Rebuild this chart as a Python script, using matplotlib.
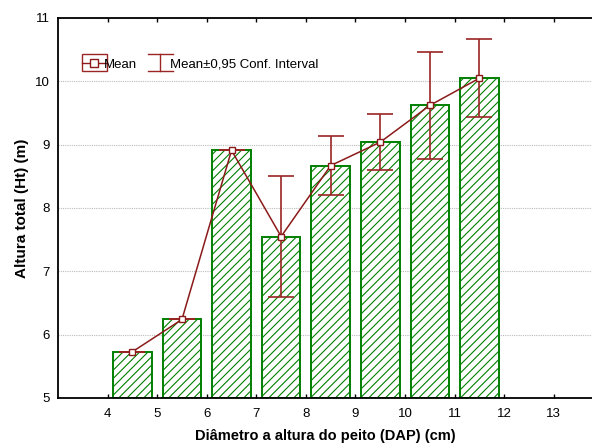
import matplotlib
matplotlib.use("Agg")
import matplotlib.pyplot as plt
from matplotlib.lines import Line2D
from matplotlib.legend_handler import HandlerBase
from matplotlib.patches import Rectangle
import numpy as np

plt.rcParams['font.family'] = ['Liberation Sans', 'DejaVu Sans']
plt.rcParams['hatch.color'] = '#4CAF50'
plt.rcParams['hatch.linewidth'] = 0.8

dap = [4.5, 5.5, 6.5, 7.5, 8.5, 9.5, 10.5, 11.5]
mean_ht = [5.73, 6.24, 8.91, 7.55, 8.67, 9.04, 9.62, 10.05]
ci_low = [5.73, 6.24, 8.91, 6.60, 8.21, 8.60, 8.78, 9.44]
ci_high = [5.73, 6.24, 8.91, 8.50, 9.14, 9.48, 10.46, 10.67]
xticks = [4, 5, 6, 7, 8, 9, 10, 11, 12, 13]
yticks = [5, 6, 7, 8, 9, 10, 11]

red = '#8B1A1A'
green = '#008000'

fig = plt.figure(figsize=(5.92, 4.46), dpi=100)
W, H = 592, 446
ax = fig.add_axes([58 / W, 1 - 398 / H, (592 - 58) / W, (398 - 18) / H])

ax.set_ylim(5, 11)
ax.set_xlim(3, 13.77)
ax.set_yticks(yticks)
ax.set_xticks(xticks)
ax.yaxis.grid(True, color='#BBBBBB', linestyle=(0, (1, 1)), linewidth=0.8)
ax.set_axisbelow(True)

ax.bar(dap, [m - 5 for m in mean_ht], bottom=5, width=0.78, facecolor='white',
       edgecolor=green, linewidth=1.4, hatch='////', zorder=2)

yerr = [np.array(mean_ht) - np.array(ci_low), np.array(ci_high) - np.array(mean_ht)]
ax.errorbar(dap, mean_ht, yerr=yerr, fmt='none', ecolor='#9B2525', elinewidth=1.2,
            capsize=9.7, capthick=1.2, zorder=3)
ax.plot(dap, mean_ht, color=red, linewidth=1.1, marker='s', markersize=4.5,
        markerfacecolor='white', markeredgecolor=red, markeredgewidth=1.0, zorder=4)

for s in ['left', 'bottom', 'top']:
    ax.spines[s].set_linewidth(1.3)
ax.spines['right'].set_visible(False)
ax.tick_params(axis='x', direction='in', length=3, width=1, top=True, labelsize=9.5, pad=7, colors='black')
ax.tick_params(axis='y', length=0, labelsize=9.5, pad=6)

ax.set_xlabel('Diâmetro a altura do peito (DAP) (cm)', fontsize=10.5, fontweight='bold', labelpad=7)
ax.set_ylabel('Altura total (Ht) (m)', fontsize=11, fontweight='bold', labelpad=4)


class MeanHandler(HandlerBase):
    def create_artists(self, legend, orig_handle, xdescent, ydescent, width, height, fontsize, trans):
        rect = Rectangle((-xdescent, -ydescent - 0.42 * height), width, height * 1.84,
                         facecolor='none', edgecolor='#9B2525', linewidth=1.0, transform=trans)
        line = Line2D([-xdescent, -xdescent + width], [height / 2 - ydescent] * 2,
                      color=red, linewidth=1.0, transform=trans)
        mk = Line2D([width / 2 - xdescent], [height / 2 - ydescent], marker='s', markersize=5.5,
                    markerfacecolor='white', markeredgecolor=red, markeredgewidth=1.0,
                    linestyle='none', transform=trans)
        return [rect, line, mk]


class CIHandler(HandlerBase):
    def create_artists(self, legend, orig_handle, xdescent, ydescent, width, height, fontsize, trans):
        x0 = -xdescent
        cx = x0 + width / 2
        top = -ydescent + height * 1.42
        bot = -ydescent - height * 0.42
        arts = [Line2D([cx, cx], [bot, top], color='#9B2525', linewidth=1.0, transform=trans),
                Line2D([x0, x0 + width], [top, top], color='#9B2525', linewidth=1.0, transform=trans),
                Line2D([x0, x0 + width], [bot, bot], color='#9B2525', linewidth=1.0, transform=trans)]
        return arts


h1 = Line2D([], [])
h2 = Rectangle((0, 0), 1, 1)
ax.legend([h1, h2], ['Mean', 'Mean±0,95 Conf. Interval'],
          handler_map={h1: MeanHandler(), h2: CIHandler()},
          loc='upper left', bbox_to_anchor=(0.022, 0.925), ncol=2, frameon=False,
          fontsize=9.5, handlelength=1.9, handletextpad=-0.25, columnspacing=0.85)

fig.savefig('out.png', dpi=100)
